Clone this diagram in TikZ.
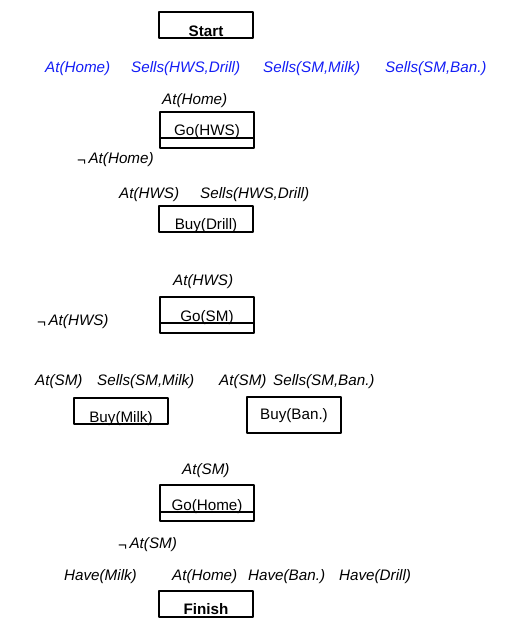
\documentclass[tikz,border=0pt]{standalone}
\usepackage{fontspec}
\setmainfont{Liberation Sans}
\usepackage{tikz}
\usetikzlibrary{calc}

\newcommand{\nt}{\raisebox{-2pt}{¬}\,}

\begin{document}
\begin{tikzpicture}[x=1pt, y=-1pt, line join = round, font=\fontsize{15.2}{17}\selectfont]
\tikzstyle{action}=[draw=black, line width=1.2pt, inner sep=0, outer sep=0, anchor=north west, minimum width=94]
\tikzstyle{cond}=[inner sep=0, anchor=base west, font=\fontsize{15.2}{17}\selectfont\itshape]
\tikzstyle{init}=[cond, text={rgb,255:red,20;green,30;blue,245}]
\tikzstyle{strip}=[draw=black, line width=1.2pt]
\useasboundingbox (0,0) rectangle (530,642);

% start and its effects
\node[action, text height=24.5, text depth=1.5] (start) at (159,12) {\textbf{Start}};
\node[init] (athome0) at (45,72.5) {At(Home)};
\node[init] (sellsdrill0) at (131,72.5) {Sells(HWS,Drill)};
\node[init] (sellsmilk0) at (263,72.5) {Sells(SM,Milk)};
\node[init] (sellsban0) at (385,72.5) {Sells(SM,Ban.)};

% go to the hardware store
\node[cond] (athome1) at (162,104.5) {At(Home)};
\node[action, text height=23.5, text depth=2.5] (gohws) at (160,112) {Go(HWS)};
\draw[strip] (gohws.south west) rectangle ($(gohws.south east)+(0,10)$);
\node[cond] (notathome) at (77,163.5) {\nt At(Home)};

% buy the drill
\node[cond] (athws1) at (119,198.5) {At(HWS)};
\node[cond] (sellsdrill1) at (200,198.5) {Sells(HWS,Drill)};
\node[action, text height=23.5, text depth=2.5] (buydrill) at (159,206) {Buy(Drill)};

% go to the supermarket
\node[cond] (athws2) at (173,285.5) {At(HWS)};
\node[action, text height=24.5, text depth=1.5] (gosm) at (160,297) {Go(SM)};
\draw[strip] (gosm.south west) rectangle ($(gosm.south east)+(0,10)$);
\node[cond] (notathws) at (37,325.5) {\nt At(HWS)};

% buy milk and bananas
\node[cond] (atsm1) at (35,385.5) {At(SM)};
\node[cond] (sellsmilk1) at (97,385.5) {Sells(SM,Milk)};
\node[cond] (atsm2) at (219,385.5) {At(SM)};
\node[cond] (sellsban1) at (273,385.5) {Sells(SM,Ban.)};
\node[action, text height=24.5, text depth=1.5] (buymilk) at (74,398) {Buy(Milk)};
\node[action, text height=22.5, text depth=13.5] (buyban) at (247,397) {Buy(Ban.)};

% go home
\node[cond] (atsm3) at (182,474.5) {At(SM)};
\node[action, text height=25.5, text depth=1.5] (gohome) at (160,485) {Go(Home)};
\draw[strip] (gohome.south west) rectangle ($(gohome.south east)+(0,9)$);
\node[cond] (notatsm) at (118,548.5) {\nt At(SM)};

% finish and its preconditions
\node[cond] (havemilk) at (64,580.5) {Have(Milk)};
\node[cond] (athome2) at (172,580.5) {At(Home)};
\node[cond] (haveban) at (248,580.5) {Have(Ban.)};
\node[cond] (havedrill) at (339,580.5) {Have(Drill)};
\node[action, text height=23.5, text depth=2.5] (finish) at (159,591) {\textbf{Finish}};
\end{tikzpicture}
\end{document}
